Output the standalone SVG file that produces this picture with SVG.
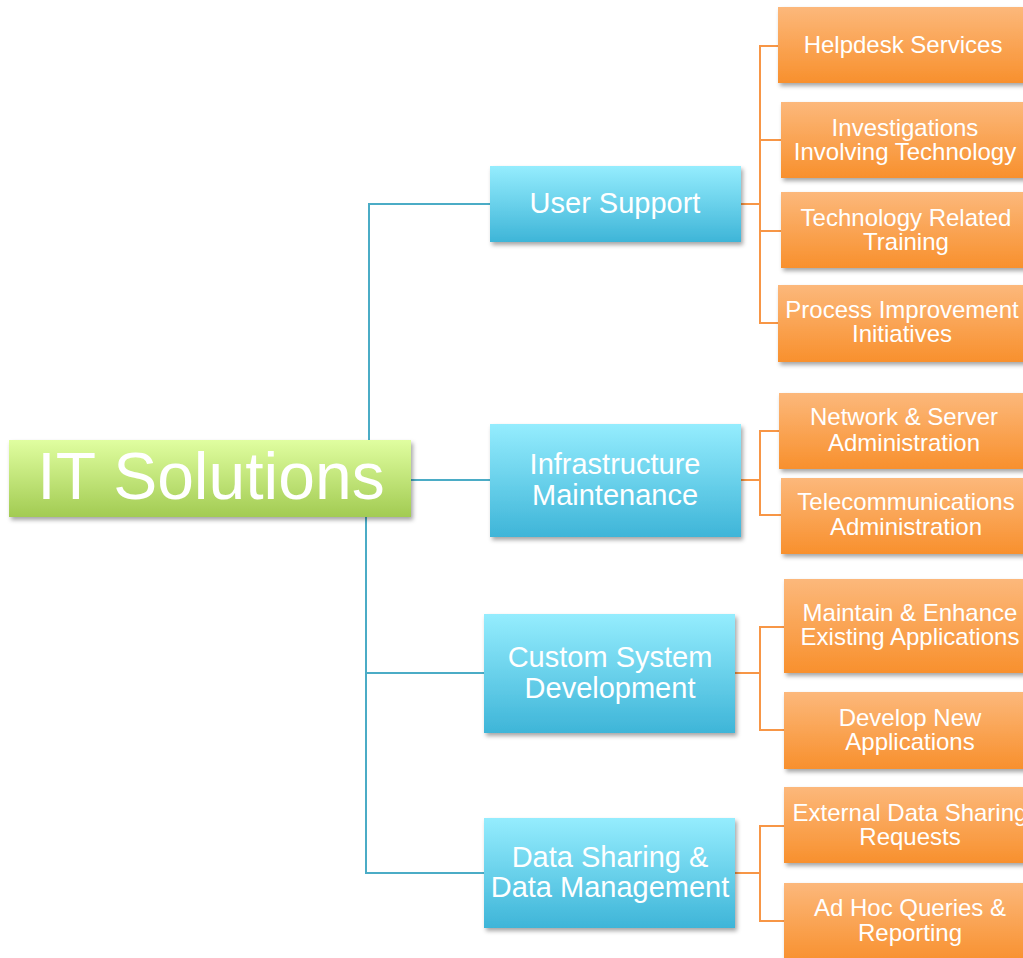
<svg xmlns="http://www.w3.org/2000/svg" width="1023" height="958" viewBox="0 0 1023 958">
  <defs>
    <linearGradient id="gGreen" x1="0" y1="0" x2="0" y2="1">
      <stop offset="0" stop-color="#e0fea0"/>
      <stop offset="1" stop-color="#a2cb52"/>
    </linearGradient>
    <linearGradient id="gBlue" x1="0" y1="0" x2="0" y2="1">
      <stop offset="0" stop-color="#95edfe"/>
      <stop offset="1" stop-color="#3eb5d8"/>
    </linearGradient>
    <linearGradient id="gOrange" x1="0" y1="0" x2="0" y2="1">
      <stop offset="0" stop-color="#fcb87b"/>
      <stop offset="1" stop-color="#f8902d"/>
    </linearGradient>
    <filter id="shadow" x="-10%" y="-20%" width="125%" height="150%">
      <feDropShadow dx="2" dy="3" stdDeviation="2" flood-color="#000" flood-opacity="0.35"/>
    </filter>
  </defs>
  <style>
    .root { fill: url(#gGreen); filter: url(#shadow); }
    .mid { fill: url(#gBlue); filter: url(#shadow); }
    .leaf { fill: url(#gOrange); filter: url(#shadow); }
    text { font-family: "Liberation Sans", Arial, sans-serif; fill: #ffffff; text-anchor: middle; }
    .t-root { font-size: 66px; }
    .t-mid { font-size: 29px; }
    .t-leaf { font-size: 24px; }
    .c-teal { fill: none; stroke: #4bacc6; stroke-width: 2; }
    .c-orange { fill: none; stroke: #f79646; stroke-width: 2; }
  </style>

  <rect width="1023" height="958" fill="#ffffff"/>

  <g id="connectors">
    <!-- root to second level -->
    <path class="c-teal" d="M369 440 V204 H490"/>
    <path class="c-teal" d="M411 480 H490"/>
    <path class="c-teal" d="M366 517 V873 H484"/>
    <path class="c-teal" d="M366 673 H484"/>
    <!-- User Support children -->
    <path class="c-orange" d="M741 204 H760"/>
    <path class="c-orange" d="M778 46 H760 V323 H778"/>
    <path class="c-orange" d="M760 140 H781"/>
    <path class="c-orange" d="M760 231 H781"/>
    <!-- Infrastructure children -->
    <path class="c-orange" d="M741 480 H760"/>
    <path class="c-orange" d="M779 431 H760 V515 H781"/>
    <!-- Custom System children -->
    <path class="c-orange" d="M735 673 H760"/>
    <path class="c-orange" d="M784 627 H760 V730 H784"/>
    <!-- Data Sharing children -->
    <path class="c-orange" d="M735 873 H760"/>
    <path class="c-orange" d="M784 826 H760 V921 H784"/>
  </g>

  <g id="it-solutions">
    <rect class="root" x="9" y="440" width="402" height="77"/>
    <text class="t-root" x="211" y="499">IT Solutions</text>
  </g>

  <g id="user-support">
    <rect class="mid" x="490" y="166" width="251" height="76"/>
    <text class="t-mid" x="615" y="213">User Support</text>
  </g>
  <g id="infrastructure-maintenance">
    <rect class="mid" x="490" y="424" width="251" height="113"/>
    <text class="t-mid" x="615" y="474">Infrastructure</text>
    <text class="t-mid" x="615" y="505">Maintenance</text>
  </g>
  <g id="custom-system-development">
    <rect class="mid" x="484" y="614" width="251" height="119"/>
    <text class="t-mid" x="610" y="667">Custom System</text>
    <text class="t-mid" x="610" y="698">Development</text>
  </g>
  <g id="data-sharing-management">
    <rect class="mid" x="484" y="818" width="251" height="110"/>
    <text class="t-mid" x="610" y="867">Data Sharing &amp;</text>
    <text class="t-mid" x="610" y="897">Data Management</text>
  </g>

  <g id="helpdesk-services">
    <rect class="leaf" x="778" y="7" width="252" height="76"/>
    <text class="t-leaf" x="903" y="53">Helpdesk Services</text>
  </g>
  <g id="investigations">
    <rect class="leaf" x="781" y="102" width="252" height="76"/>
    <text class="t-leaf" x="905" y="136">Investigations</text>
    <text class="t-leaf" x="905" y="160">Involving Technology</text>
  </g>
  <g id="technology-training">
    <rect class="leaf" x="781" y="192" width="252" height="76"/>
    <text class="t-leaf" x="906" y="226">Technology Related</text>
    <text class="t-leaf" x="906" y="250">Training</text>
  </g>
  <g id="process-improvement">
    <rect class="leaf" x="778" y="285" width="252" height="77"/>
    <text class="t-leaf" x="902" y="318">Process Improvement</text>
    <text class="t-leaf" x="902" y="342">Initiatives</text>
  </g>
  <g id="network-server">
    <rect class="leaf" x="779" y="393" width="252" height="76"/>
    <text class="t-leaf" x="904" y="425">Network &amp; Server</text>
    <text class="t-leaf" x="904" y="451">Administration</text>
  </g>
  <g id="telecommunications">
    <rect class="leaf" x="781" y="478" width="252" height="76"/>
    <text class="t-leaf" x="906" y="510">Telecommunications</text>
    <text class="t-leaf" x="906" y="535">Administration</text>
  </g>
  <g id="maintain-enhance">
    <rect class="leaf" x="784" y="579" width="252" height="94"/>
    <text class="t-leaf" x="910" y="621">Maintain &amp; Enhance</text>
    <text class="t-leaf" x="910" y="645">Existing Applications</text>
  </g>
  <g id="develop-new">
    <rect class="leaf" x="784" y="692" width="252" height="77"/>
    <text class="t-leaf" x="910" y="726">Develop New</text>
    <text class="t-leaf" x="910" y="750">Applications</text>
  </g>
  <g id="external-data-sharing">
    <rect class="leaf" x="784" y="787" width="252" height="76"/>
    <text class="t-leaf" x="910" y="821">External Data Sharing</text>
    <text class="t-leaf" x="910" y="845">Requests</text>
  </g>
  <g id="ad-hoc-queries">
    <rect class="leaf" x="784" y="883" width="252" height="80"/>
    <text class="t-leaf" x="910" y="916">Ad Hoc Queries &amp;</text>
    <text class="t-leaf" x="910" y="941">Reporting</text>
  </g>
</svg>
